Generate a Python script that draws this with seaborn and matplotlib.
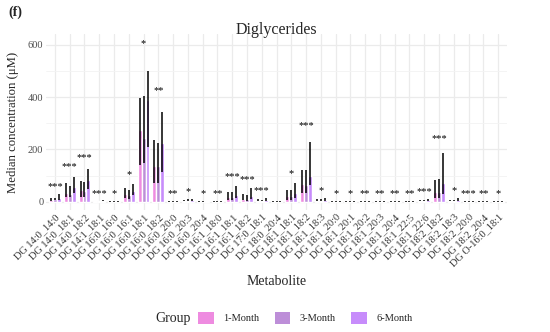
import matplotlib
matplotlib.use("Agg")
import matplotlib.pyplot as plt
from matplotlib.patches import Patch
from matplotlib.ticker import MultipleLocator
import pandas as pd
import seaborn as sns

### data
metabolites = ["DG 14:0_14:0", "DG 14:0_18:1", "DG 14:0_18:2", "DG 14:1_18:1", "DG 16:0_16:0",
               "DG 16:0_16:1", "DG 16:0_18:1", "DG 16:0_18:2", "DG 16:0_20:0", "DG 16:0_20:3",
               "DG 16:0_20:4", "DG 16:1_18:0", "DG 16:1_18:1", "DG 16:1_18:2", "DG 17:0_18:1",
               "DG 18:0_20:4", "DG 18:1_18:1", "DG 18:1_18:2", "DG 18:1_18:3", "DG 18:1_20:0",
               "DG 18:1_20:1", "DG 18:1_20:2", "DG 18:1_20:3", "DG 18:1_20:4", "DG 18:1_22:5",
               "DG 18:1_22:6", "DG 18:2_18:2", "DG 18:2_18:3", "DG 18:2_20:0", "DG 18:2_20:4",
               "DG O-16:0_18:1"]
groups = ["1-Month", "3-Month", "6-Month"]

med_1m = [8, 32, 45, 2, 1, 30, 275, 135, 1, 3, 1.5, 1, 19, 12, 4, 1, 22, 67, 3, 1, 1, 1.5, 1.5, 1.5, 1, 3, 38, 3, 1, 1.5, 1]
med_3m = [9, 30, 42, 2, 1, 25, 245, 135, 1, 4, 1.5, 1, 19, 10, 4, 1, 20, 65, 3, 1, 1, 1.5, 1.5, 1.5, 1, 3, 38, 3, 1, 1.5, 1]
med_6m = [15, 55, 83, 2, 1, 40, 390, 225, 1, 5, 2, 1, 26, 20, 6, 1, 35, 98, 6, 1, 1, 1.5, 1.5, 1.5, 1, 5, 70, 6, 1, 1.5, 1]

lo_1m = [4, 19, 19, 1, 0.5, 13, 140, 70, 0.5, 1, 0.5, 0.5, 8, 5, 2, 0.5, 8, 35, 1, 0.5, 0.5, 0.5, 0.5, 0.5, 0.5, 1, 15, 1, 0.5, 0.5, 0.5]
lo_3m = [5, 17, 19, 1, 0.5, 9, 150, 70, 0.5, 2, 0.5, 0.5, 8, 4, 2, 0.5, 8, 35, 1, 0.5, 0.5, 0.5, 0.5, 0.5, 0.5, 1, 15, 1, 0.5, 0.5, 0.5]
lo_6m = [8, 32, 47, 1, 0.5, 26, 211, 115, 0.5, 2, 1, 0.5, 15, 9, 3, 0.5, 15, 64, 2, 0.5, 0.5, 0.5, 0.5, 0.5, 0.5, 2, 30, 2, 0.5, 0.5, 0.5]

hi_1m = [14, 70, 80, 4, 3, 51, 396, 236, 2, 8, 3, 2, 38, 28, 10, 2, 45, 121, 9, 3, 3, 3, 3, 3, 3, 6, 83, 8, 3, 3, 3]
hi_3m = [15, 60, 76, 4, 3, 45, 405, 223, 2, 9, 3, 2, 38, 25, 8, 2, 43, 121, 10, 3, 3, 3, 3, 3, 3, 6, 87, 8, 3, 3, 3]
hi_6m = [28, 93, 124, 5, 3, 68, 502, 345, 3, 11, 4, 3, 60, 51, 14, 2, 70, 230, 14, 4, 4, 4, 4, 4, 4, 10, 185, 15, 4, 4, 4]

sig = ["***", "***", "***", "***", "*", "*", "*", "**", "**", "*", "*", "**", "***", "***", "***",
       "", "*", "***", "*", "*", "*", "**", "**", "**", "**", "***", "***", "*", "***", "**", "*"]

colors = ["#EE8BE0", "#BD8ED8", "#C78CFB"]

### long table for seaborn
df = pd.DataFrame({
    "Metabolite": metabolites * 3,
    "Group": [g for g in groups for _ in metabolites],
    "Median": med_1m + med_3m + med_6m,
    "Low": lo_1m + lo_3m + lo_6m,
    "High": hi_1m + hi_3m + hi_6m,
})

sns.set_theme(style="white")
plt.rcParams["font.family"] = ["Liberation Serif", "DejaVu Serif"]

fig = plt.figure(figsize=(5.5, 3.32), dpi=100)
ax = fig.add_axes([0.0838, 0.3684, 0.838, 0.528])

sns.barplot(data=df, x="Metabolite", y="Median", hue="Group", order=metabolites,
            hue_order=groups, palette=colors, errorbar=None, width=0.8, saturation=1,
            legend=False, ax=ax, zorder=2)

# error bars (no caps), drawn over each bar
for cont, g in zip(ax.containers, groups):
    sub = df[df["Group"] == g].set_index("Metabolite").loc[metabolites]
    xs = [p.get_x() + p.get_width() / 2 for p in cont.patches]
    ax.vlines(xs, sub["Low"], sub["High"], color="black", lw=1.1, zorder=3)

# significance stars above each metabolite
for i, m in enumerate(metabolites):
    top = max(hi_1m[i], hi_3m[i], hi_6m[i])
    ax.text(i, top * 1.15 + 27, sig[i], ha="center", va="center", fontsize=7.5, color="black")

ax.set_xlim(-0.6, 30.6)
ax.set_ylim(-30.5, 640.5)
ax.set_yticks([0, 200, 400, 600])
ax.yaxis.set_minor_locator(MultipleLocator(100))
ax.grid(which="major", axis="both", color="#EBEBEB", lw=0.9, zorder=0)
ax.grid(which="minor", axis="y", color="#F3F3F3", lw=0.6, zorder=0)
ax.set_axisbelow(True)
for s in ax.spines.values():
    s.set_visible(False)
ax.tick_params(axis="both", which="both", length=0, pad=2)
ax.tick_params(axis="y", labelsize=7.5, labelcolor="#4D4D4D")
plt.setp(ax.get_xticklabels(), rotation=45, ha="right", rotation_mode="anchor",
         fontsize=7.5, color="#333333")

ax.set_xlabel("Metabolite", fontsize=10)
ax.xaxis.set_label_coords(0.5, -0.375)
ax.set_ylabel("Median concentration (\u03bcM)", fontsize=9.2)
ax.yaxis.set_label_coords(-0.058, 0.5)

fig.text(0.503, 0.91, "Diglycerides", ha="center", va="center", fontsize=11.5)
fig.text(0.015, 0.962, "(f)", ha="left", va="center", fontsize=10, fontweight="bold")

# legend along the bottom
fig.text(0.282, 0.042, "Group", ha="left", va="center", fontsize=10)
handles = [Patch(facecolor=c, edgecolor="none") for c in colors]
fig.legend(handles, groups, loc="center", bbox_to_anchor=(0.555, 0.042), ncol=3, frameon=False,
           fontsize=7.5, handlelength=1.5, handleheight=1.5, columnspacing=1.5, handletextpad=0.9)

fig.savefig("out.png", dpi=100)
